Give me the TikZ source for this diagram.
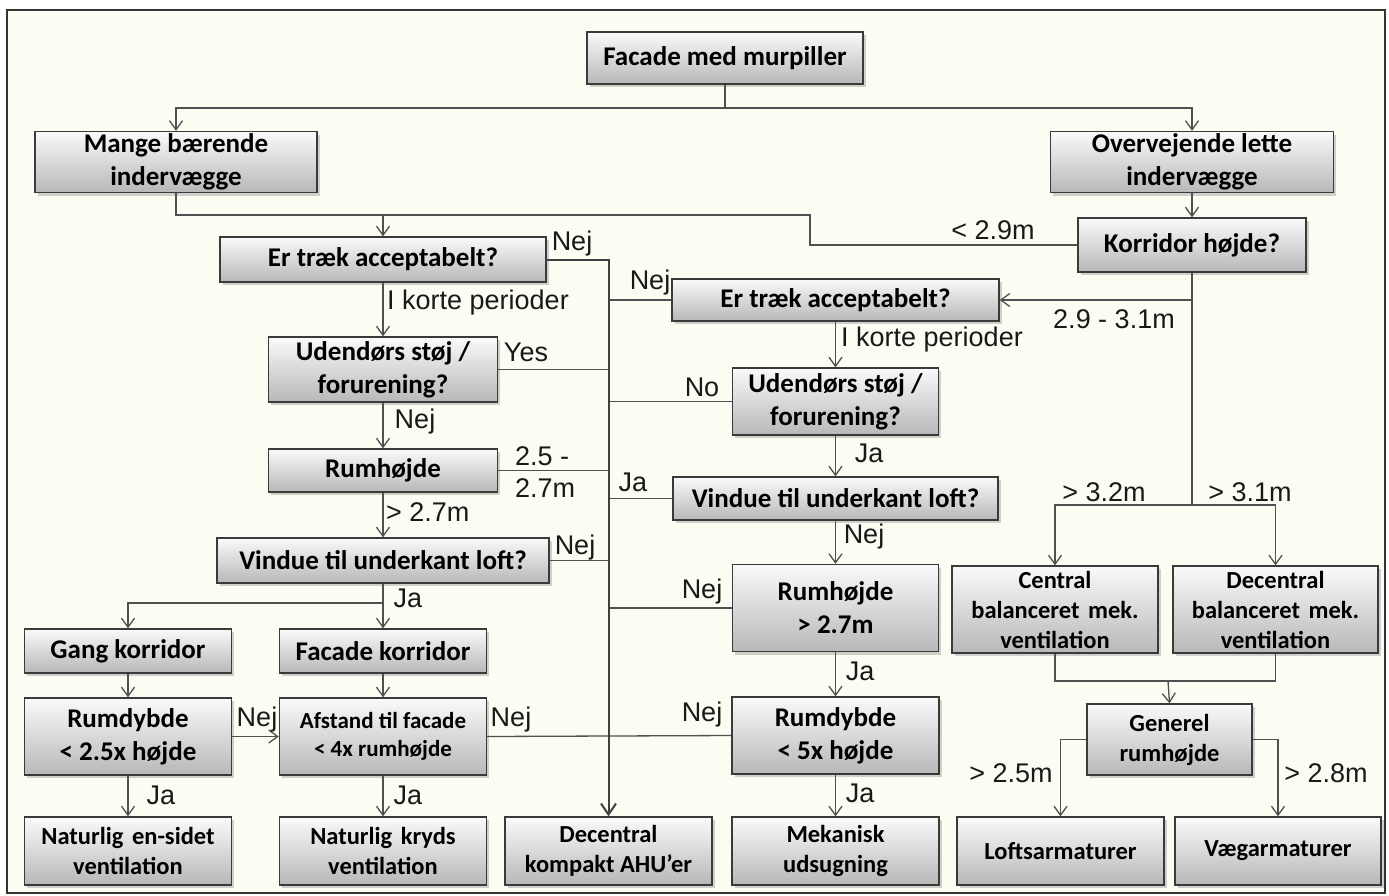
\documentclass[tikz,border=0pt]{standalone}
\usepackage{fontspec}
\setmainfont{Liberation Sans}
\newfontfamily\boxfont{Carlito}
\usetikzlibrary{arrows.meta,shadows}

\definecolor{paper}{HTML}{FCFCF3}
\definecolor{edge}{HTML}{3A3A3A}
\definecolor{wire}{HTML}{505050}

\begin{document}
\begin{tikzpicture}[x=1pt,y=-1pt,
  stepbox/.style={draw=edge, line width=1.4pt, top color=black!2, bottom color=black!28,
    drop shadow={shadow xshift=2.5pt, shadow yshift=-3pt, opacity=0.35},
    inner sep=0pt, align=center, text=black,
    font=\boxfont\bfseries\fontsize{27}{33}\selectfont},
  smallbox/.style={stepbox, font=\boxfont\bfseries\fontsize{24.5}{30}\selectfont},
  sz/.style 2 args={minimum width=#1pt, minimum height=#2pt},
  lab/.style={inner sep=0pt, text=black!90, font=\fontsize{27}{33}\selectfont},
  ln/.style={draw=wire, line width=1.3pt},
  arr/.style={ln, -{Straight Barb[length=9pt,width=13pt,line width=1.3pt]}},
  trunk/.style={draw=black!75, line width=2pt, -{Straight Barb[length=11pt,width=15pt,line width=2pt]}}
]
% page and frame
\fill[white] (0,0) rectangle (1389,895);
\draw[line width=1.3pt, draw=black!80, fill=paper] (7,10) rectangle (1385,893);

% top level
\node[stepbox, sz={276}{52}] (fac) at (725,58) {Facade med murpiller};
\node[stepbox, sz={282}{61}] (mange) at (176,162) {Mange bærende\\indervægge};
\node[stepbox, sz={283}{61}] (over) at (1192,162) {Overvejende lette\\indervægge};
\node[stepbox, sz={228}{54}] (korr) at (1192,245) {Korridor højde?};

% left column
\node[stepbox, sz={326}{45}] (traekL) at (383,259.5) {Er træk acceptabelt?};
\node[stepbox, sz={229}{65}] (udL) at (383,369.5) {Udendørs støj /\\forurening?};
\node[stepbox, sz={229}{43}] (rumL) at (383,470.5) {Rumhøjde};
\node[stepbox, sz={332}{45}] (vinL) at (383,560.5) {Vindue til underkant loft?};
\node[stepbox, sz={207}{44}] (gang) at (128,651) {Gang korridor};
\node[stepbox, sz={207}{44}] (fk) at (383,651) {Facade korridor};
\node[stepbox, sz={207}{77}] (rd25) at (128,736.5) {Rumdybde\\< 2.5x højde};
\node[stepbox, sz={207}{77}, font=\boxfont\bfseries\fontsize{23}{28}\selectfont] (afs) at (383,736.5) {Afstand til facade\\< 4x rumhøjde};

% right column
\node[stepbox, sz={327}{42}] (traekR) at (835.5,300) {Er træk acceptabelt?};
\node[stepbox, sz={206}{67}] (udR) at (835.5,401.5) {Udendørs støj /\\forurening?};
\node[stepbox, sz={325}{43}] (vinR) at (835.5,498.5) {Vindue til underkant loft?};
\node[stepbox, sz={206}{87}] (rumR) at (835.5,608) {Rumhøjde\\> 2.7m};
\node[stepbox, sz={207}{77}] (rd5) at (835.5,735.5) {Rumdybde\\< 5x højde};

% mechanical branch
\node[smallbox, sz={206}{87}] (cen) at (1055,609.5) {Central\\balanceret\hspace{0.35em}mek.\\ventilation};
\node[smallbox, sz={205}{87}] (dec) at (1275.5,609.5) {Decentral\\balanceret\hspace{0.35em}mek.\\ventilation};
\node[smallbox, sz={165}{71}] (gen) at (1169.5,739.5) {Generel\\rumhøjde};

% outcomes
\node[smallbox, sz={207}{68}] (nat1) at (128,851) {Naturlig\hspace{0.35em}en-sidet\\ventilation};
\node[smallbox, sz={207}{68}] (nat2) at (383,851) {Naturlig\hspace{0.35em}kryds\\ventilation};
\node[smallbox, sz={207}{68}] (ahu) at (608.5,851) {Decentral\\kompakt AHU’er};
\node[smallbox, sz={207}{68}] (mek) at (835.5,851) {Mekanisk\\udsugning};
\node[smallbox, sz={207}{68}] (loft) at (1060.5,851) {Loftsarmaturer};
\node[smallbox, sz={206}{68}] (vaeg) at (1278,851) {Vægarmaturer};

% junction points
\coordinate (f1) at (725,108);
\coordinate (m1) at (810,215);
\coordinate (k1) at (1192,505);
\coordinate (v1) at (383,603);
\coordinate (g1) at (1168,681);

% top connectors
\draw[ln] (fac.south) -- (f1);
\draw[arr] (f1) -| (mange.north);
\draw[arr] (f1) -| (over.north);
\draw[arr] (over.south) -- (korr.north);
\draw[ln] (korr.west) -| (m1) -| (mange.south);
\draw[arr] (traekL.north |- m1) -- (traekL.north);
\draw[arr] (korr.south) |- (traekR.east);
\draw[ln] (korr.south) -- (k1);
\draw[arr] (k1) -| (cen.north);
\draw[arr] (k1) -| (dec.north);
\draw[ln] (cen.south) |- (g1) -| (dec.south);
\draw[arr] (g1) -- (gen.north);
\draw[arr] (gen.west) -| (loft.north);
\draw[arr] (gen.east) -| (vaeg.north);

% left chain
\draw[arr] (traekL.south) -- (udL.north);
\draw[arr] (udL.south) -- (rumL.north);
\draw[arr] (rumL.south) -- (vinL.north);
\draw[ln] (vinL.south) -- (v1);
\draw[arr] (v1) -| (gang.north);
\draw[arr] (v1) -- (fk.north);
\draw[arr] (gang.south) -- (rd25.north);
\draw[arr] (fk.south) -- (afs.north);
\draw[arr] (rd25.east) -- (afs.west);
\draw[arr] (rd25.south) -- (nat1.north);
\draw[arr] (afs.south) -- (nat2.north);

% right chain
\draw[arr] (traekR.south) -- (udR.north);
\draw[arr] (udR.south) -- (vinR.north);
\draw[arr] (vinR.south) -- (rumR.north);
\draw[arr] (rumR.south) -- (rd5.north);
\draw[arr] (rd5.south) -- (mek.north);

% central trunk to compact units
\draw[ln] (traekR.west) -- (traekR.west -| ahu.north);
\draw[ln] (udL.east) -- (udL.east -| ahu.north);
\draw[ln] (udR.west) -- (udR.west -| ahu.north);
\draw[ln] (rumL.east) -- (rumL.east -| ahu.north);
\draw[ln] (vinR.west) -- (vinR.west -| ahu.north);
\draw[ln] (vinL.east) -- (vinL.east -| ahu.north);
\draw[ln] (rumR.west) -- (rumR.west -| ahu.north);
\draw[ln] (afs.east) -- (rd5.west);
\draw[trunk] (traekL.east) -| (ahu.north);

% branch labels
\node[lab] at (993,230) {< 2.9m};
\node[lab] at (572,244) {Nej};
\node[lab, anchor=west] at (387,303) {I korte perioder};
\node[lab] at (650,283) {Nej};
\node[lab, anchor=west] at (841,340) {I korte perioder};
\node[lab] at (1114,319) {2.9 - 3.1m};
\node[lab] at (526,352) {Yes};
\node[lab] at (702,387) {No};
\node[lab] at (415,422) {Nej};
\node[lab] at (869,453) {Ja};
\node[lab, anchor=west, align=left, font=\fontsize{27}{32}\selectfont] at (515,472) {2.5 -\\2.7m};
\node[lab, anchor=west] at (386,512) {> 2.7m};
\node[lab] at (633,482) {Ja};
\node[lab] at (575,548) {Nej};
\node[lab] at (864,537) {Nej};
\node[lab] at (1104,492) {> 3.2m};
\node[lab] at (1250,492) {> 3.1m};
\node[lab] at (702,592) {Nej};
\node[lab] at (860,671) {Ja};
\node[lab] at (257,720) {Nej};
\node[lab] at (511,720) {Nej};
\node[lab] at (702,715) {Nej};
\node[lab] at (161,795) {Ja};
\node[lab] at (408,795) {Ja};
\node[lab] at (860,793) {Ja};
\node[lab] at (408,598) {Ja};
\node[lab] at (1011,773) {> 2.5m};
\node[lab] at (1326,773) {> 2.8m};
\end{tikzpicture}
\end{document}
